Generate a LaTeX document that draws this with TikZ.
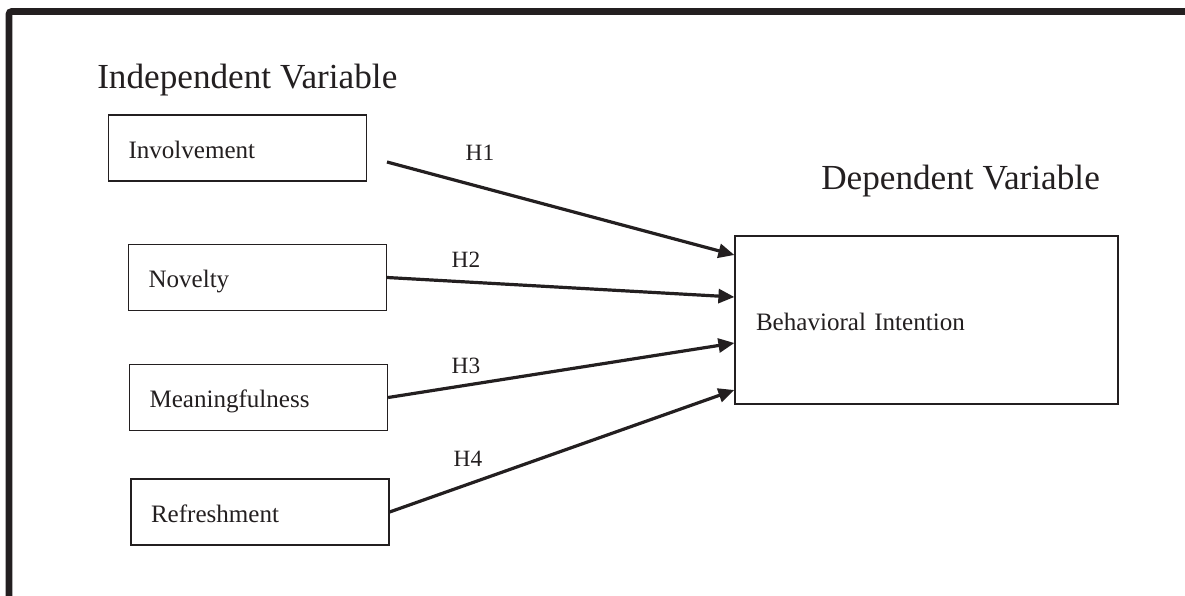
\documentclass[tikz,border=0pt]{standalone}
\usepackage{fontspec}
\setmainfont{Liberation Serif}
\usepackage{tikz}
\usetikzlibrary{
  arrows.meta,
  positioning,
  calc
}
\definecolor{ink}{HTML}{231F20}

\begin{document}
\begin{tikzpicture}[
    x=0.75pt, y=-0.75pt,
    var/.style={draw=ink, line width=0.9pt, rectangle, align=left,
                text=ink, inner xsep=15pt, inner ysep=0pt,
                text height=15pt, text depth=0pt,
                font=\fontsize{18.8}{22}\selectfont},
    ivbox/.style={var, text width=163.5pt, minimum height=49.5pt},
    dvbox/.style={var, text width=255.75pt, minimum height=126pt, inner xsep=15.75pt},
    ttl/.style={text=ink, anchor=base west, inner sep=0pt,
                font=\fontsize{26.4}{30}\selectfont},
    hyp/.style={text=ink, anchor=base, inner sep=0pt,
                font=\fontsize{17.5}{20}\selectfont},
    ed/.style={draw=ink, line width=2.4pt,
               -{Triangle[length=12pt,width=10.5pt]}},
    frame/.style={draw=ink, line width=5pt, rounded corners=2pt}
  ]
    \useasboundingbox (0,0) rectangle (1185,596);
    \draw[frame] (9,620) -- (9,11.5) -- (1200,11.5);
    \node[ttl] (indep) at (97,88) {Independent Variable};
    \node[ttl] (dep) at (821,189) {Dependent Variable};
    \node[ivbox] (inv) at (237.5,148) {Involvement};
    \node[ivbox] (nov) at (257.5,277.5) {Novelty};
    \node[ivbox] (mea) at (258.5,397.5) {Meaningfulness};
    \node[ivbox] (ref) at (260,512) {Refreshment};
    \node[dvbox] (bi) at (926.5,320) {Behavioral Intention};
    \coordinate (s1) at (387,162);
    \draw[ed] (s1) -- ([yshift=48.75pt]bi.west);
    \draw[ed] (nov.east) -- ([yshift=17.25pt]bi.west);
    \draw[ed] (mea.east) -- ([yshift=-17.25pt]bi.west);
    \draw[ed] (ref.east) -- ([yshift=-52.5pt]bi.west);
    \node[hyp] (h1) at (480,160) {H1};
    \node[hyp] (h2) at (466,267) {H2};
    \node[hyp] (h3) at (466,373) {H3};
    \node[hyp] (h4) at (468,466) {H4};
  \end{tikzpicture}
\end{document}
